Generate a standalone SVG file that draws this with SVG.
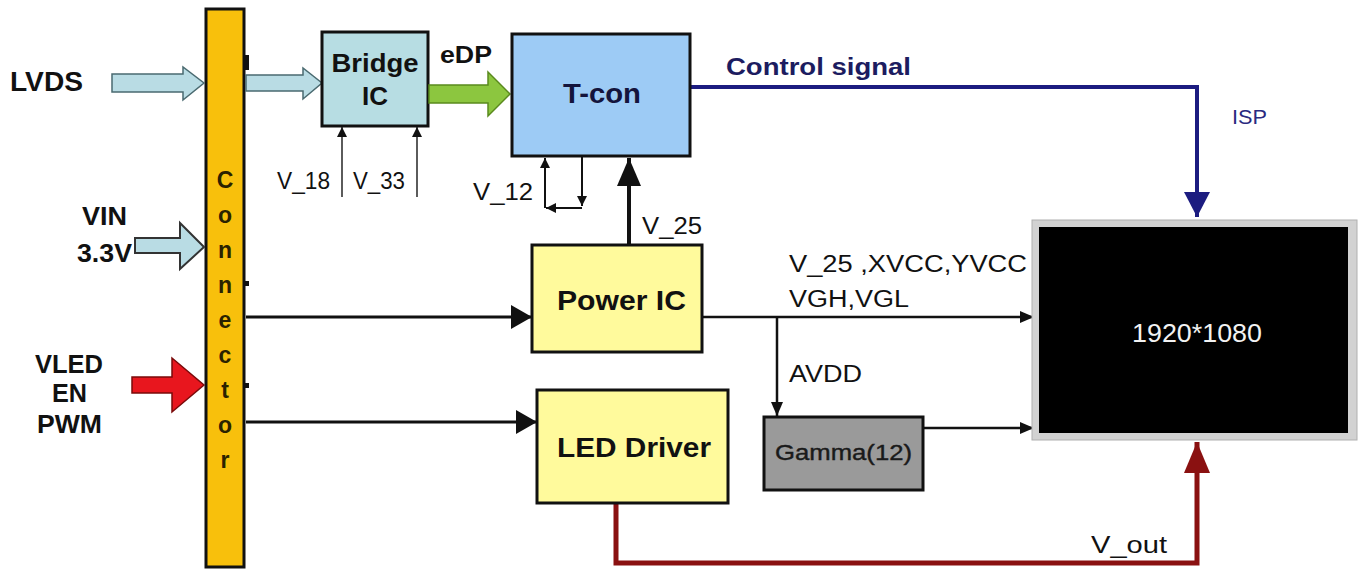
<svg xmlns="http://www.w3.org/2000/svg" width="1358" height="571" viewBox="0 0 1358 571">
<style>
.t{font-family:"Liberation Sans",Arial,sans-serif;fill:#111}
.b{font-weight:bold}
.box{stroke:#111;stroke-width:3}
.ln{fill:none;stroke:#111;stroke-width:3}
.thin{fill:none;stroke:#333;stroke-width:1.6}
.conn{font-family:"Liberation Sans",Arial,sans-serif;font-weight:bold;font-size:23px;fill:#2b2200;text-anchor:middle}
</style>
<defs>
<marker id="aBig" markerUnits="userSpaceOnUse" markerWidth="22" markerHeight="24" refX="21" refY="12" orient="auto"><path d="M0,0 L21,12 L0,24 z" fill="#111"/></marker>
<marker id="aSm" markerUnits="userSpaceOnUse" markerWidth="14" markerHeight="12" refX="14" refY="6" orient="auto"><path d="M0,0 L14,6 L0,12 z" fill="#111"/></marker>
<marker id="aTiny" markerUnits="userSpaceOnUse" markerWidth="10" markerHeight="10" refX="10" refY="5" orient="auto"><path d="M0,0 L10,5 L0,10 z" fill="#111"/></marker>
<marker id="aV25" markerUnits="userSpaceOnUse" markerWidth="28" markerHeight="24" refX="28" refY="12" orient="auto"><path d="M0,0 L28,12 L0,24 z" fill="#111"/></marker>
<marker id="aNavy" markerUnits="userSpaceOnUse" markerWidth="25" markerHeight="26" refX="25" refY="13" orient="auto"><path d="M0,0 L25,13 L0,26 z" fill="#1c1c80"/></marker>
<marker id="aRed" markerUnits="userSpaceOnUse" markerWidth="31" markerHeight="26" refX="31" refY="13" orient="auto"><path d="M0,0 L31,13 L0,26 z" fill="#8a1111"/></marker>
</defs>
<rect width="1358" height="571" fill="#fff"/>

<g id="connectors">
<path class="ln" d="M246,317 H532" marker-end="url(#aBig)"/>
<path class="ln" d="M246,422 H537" marker-end="url(#aBig)"/>
<path class="thin" d="M342,197 V127" marker-end="url(#aTiny)"/>
<path class="thin" d="M417,197 V127" marker-end="url(#aTiny)"/>
<path class="ln" style="stroke-width:2" d="M582,157 V206" marker-end="url(#aTiny)"/>
<path class="ln" style="stroke-width:2" d="M582,208 H546" marker-end="url(#aTiny)"/>
<path class="ln" style="stroke-width:2" d="M545,208 V158" marker-end="url(#aTiny)"/>
<path class="ln" style="stroke-width:4" d="M629,246 V158" marker-end="url(#aV25)"/>
<path d="M690,87 H1197 V217" fill="none" stroke="#1c1c80" stroke-width="4" marker-end="url(#aNavy)"/>
<path class="ln" style="stroke-width:2.5" d="M703,317 H1034" marker-end="url(#aSm)"/>
<path class="ln" style="stroke-width:2.5" d="M777,317 V416" marker-end="url(#aSm)"/>
<path class="ln" style="stroke-width:2.5" d="M924,428 H1034" marker-end="url(#aSm)"/>
<path d="M616,504 V563 H1197 V442" fill="none" stroke="#8a1111" stroke-width="5" marker-end="url(#aRed)"/>
</g>

<g id="connector-bar">
<rect x="206" y="9" width="38" height="558" fill="#f8c00c" stroke="#111" stroke-width="3"/>
<rect x="244" y="55" width="5" height="15" fill="#111"/>
<rect x="245" y="281" width="4" height="5" fill="#111"/>
<rect x="245" y="383" width="4" height="5" fill="#111"/>
<text class="conn" x="225" y="188">C</text>
<text class="conn" x="225" y="223">o</text>
<text class="conn" x="225" y="258">n</text>
<text class="conn" x="225" y="293">n</text>
<text class="conn" x="225" y="328">e</text>
<text class="conn" x="225" y="363">c</text>
<text class="conn" x="225" y="398">t</text>
<text class="conn" x="225" y="433">o</text>
<text class="conn" x="225" y="468">r</text>
</g>

<g id="lvds-input">
<text class="t b" x="10" y="91" font-size="27" textLength="73" lengthAdjust="spacingAndGlyphs">LVDS</text>
<polygon points="112,74 183,74 183,67 204,83 183,100 183,92 112,92" fill="#b9dce4" stroke="#4a6a70" stroke-width="1.5"/>
<polygon points="246,75 303,75 303,68 322,83 303,99 303,91 246,91" fill="#b9dce4" stroke="#4a6a70" stroke-width="1.5"/>
</g>

<g id="vin-input">
<text class="t b" x="82" y="225" font-size="25" textLength="45" lengthAdjust="spacingAndGlyphs">VIN</text>
<text class="t b" x="77" y="262" font-size="25" textLength="55" lengthAdjust="spacingAndGlyphs">3.3V</text>
<polygon points="135,238 180,238 180,223 204,247 180,269 180,253 135,253" fill="#b9dce4" stroke="#333" stroke-width="2"/>
</g>

<g id="vled-input">
<text class="t b" x="35" y="373" font-size="25" textLength="68" lengthAdjust="spacingAndGlyphs">VLED</text>
<text class="t b" x="52" y="402" font-size="25" textLength="35" lengthAdjust="spacingAndGlyphs">EN</text>
<text class="t b" x="37" y="433" font-size="25" textLength="65" lengthAdjust="spacingAndGlyphs">PWM</text>
<polygon points="132,377 172,377 172,358 204,385 172,412 172,393 132,393" fill="#e8161e" stroke="#7a0a0a" stroke-width="1.5"/>
</g>

<g id="bridge-ic">
<rect class="box" x="322" y="32" width="106" height="94" fill="#b7dde3" stroke-width="2.5"/>
<text class="t b" x="375" y="72" font-size="26" text-anchor="middle" textLength="87" lengthAdjust="spacingAndGlyphs">Bridge</text>
<text class="t b" x="375" y="105" font-size="26" text-anchor="middle">IC</text>
<text class="t" x="277" y="189" font-size="23" textLength="53" lengthAdjust="spacingAndGlyphs">V_18</text>
<text class="t" x="353" y="189" font-size="23" textLength="52" lengthAdjust="spacingAndGlyphs">V_33</text>
</g>

<g id="edp-link">
<polygon points="429,85 488,85 488,72 510,94 488,116 488,103 429,103" fill="#8cc63f" stroke="#5a8a1e" stroke-width="1.5"/>
<text class="t b" x="440" y="63" font-size="24" textLength="52" lengthAdjust="spacingAndGlyphs">eDP</text>
</g>

<g id="t-con">
<rect class="box" x="512" y="34" width="178" height="122" fill="#9dcbf5"/>
<text class="t b" x="602" y="103" font-size="28" text-anchor="middle" style="fill:#14143c" textLength="78" lengthAdjust="spacingAndGlyphs">T-con</text>
<text class="t" x="473" y="200" font-size="23" textLength="60" lengthAdjust="spacingAndGlyphs">V_12</text>
<text class="t" x="642" y="234" font-size="23" textLength="60" lengthAdjust="spacingAndGlyphs">V_25</text>
</g>

<g id="control-label">
<text class="t b" x="726" y="75" font-size="23" style="fill:#1c1c60" textLength="185" lengthAdjust="spacingAndGlyphs">Control signal</text>
<text class="t" x="1232" y="124" font-size="20" style="fill:#2a2a80" textLength="35" lengthAdjust="spacingAndGlyphs">ISP</text>
</g>

<g id="power-ic">
<rect class="box" x="532" y="245" width="170" height="107" fill="#fffa9c"/>
<text class="t b" x="557" y="310" font-size="27" textLength="129" lengthAdjust="spacingAndGlyphs">Power IC</text>
<text class="t" x="789" y="272" font-size="23" textLength="238" lengthAdjust="spacingAndGlyphs">V_25 ,XVCC,YVCC</text>
<text class="t" x="789" y="307" font-size="23" textLength="120" lengthAdjust="spacingAndGlyphs">VGH,VGL</text>
<text class="t" x="789" y="382" font-size="23" textLength="73" lengthAdjust="spacingAndGlyphs">AVDD</text>
</g>

<g id="led-driver">
<rect class="box" x="537" y="390" width="191" height="113" fill="#fffa9c"/>
<text class="t b" x="557" y="457" font-size="27" textLength="154" lengthAdjust="spacingAndGlyphs">LED Driver</text>
<text class="t" x="1091" y="553" font-size="24" textLength="76" lengthAdjust="spacingAndGlyphs">V_out</text>
</g>

<g id="gamma">
<rect class="box" x="764" y="417" width="159" height="73" fill="#9a9a9a"/>
<text class="t" x="775" y="460" font-size="22" style="fill:#1a1a1a;stroke:#1a1a1a;stroke-width:0.4" textLength="137" lengthAdjust="spacingAndGlyphs">Gamma(12)</text>
</g>

<g id="display">
<rect x="1032" y="220" width="325" height="220" fill="#d2d2d2" stroke="#b0b0b0" stroke-width="1"/>
<rect x="1039" y="227" width="309" height="206" fill="#000"/>
<text class="t" x="1197" y="342" font-size="25" text-anchor="middle" style="fill:#f2f2f2" textLength="130" lengthAdjust="spacingAndGlyphs">1920*1080</text>
</g>
</svg>
